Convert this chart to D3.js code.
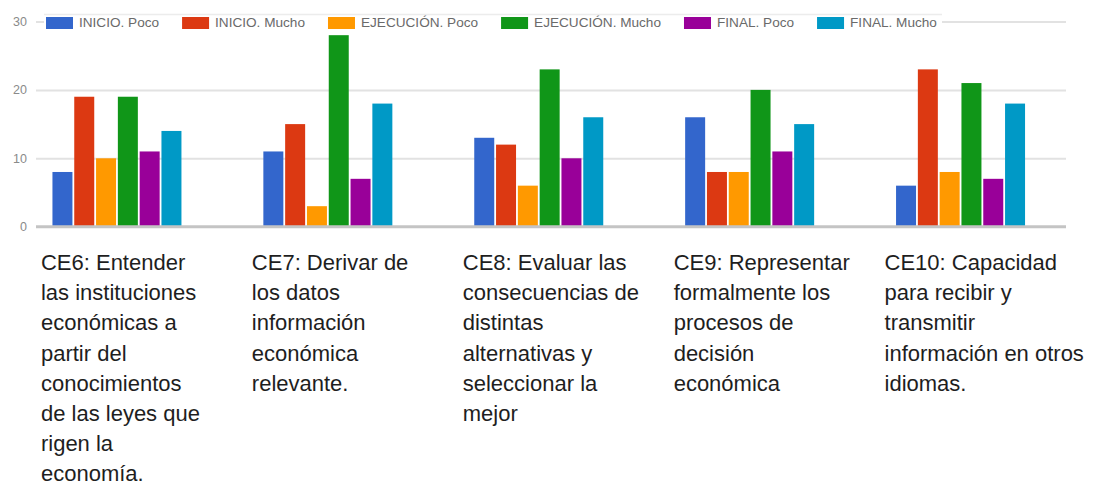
<!DOCTYPE html>
<html>
<head>
<meta charset="utf-8">
<script src="https://cdn.jsdelivr.net/npm/d3@7.9.0/dist/d3.min.js"></script>
<style>
  html, body { margin: 0; padding: 0; background: #fff; }
  svg { display: block; font-family: "Liberation Sans", Arial, sans-serif; }
</style>
</head>
<body>
<div id="chart"></div>
<script>
// categories (x axis) and their wrapped labels
const categories = ['CE6', 'CE7', 'CE8', 'CE9', 'CE10'];
const categoryLabels = [
  ['CE6: Entender', 'las instituciones', 'económicas a', 'partir del', 'conocimientos', 'de las leyes que', 'rigen la', 'economía.'],
  ['CE7: Derivar de', 'los datos', 'información', 'económica', 'relevante.'],
  ['CE8: Evaluar las', 'consecuencias de', 'distintas', 'alternativas y', 'seleccionar la', 'mejor'],
  ['CE9: Representar', 'formalmente los', 'procesos de', 'decisión', 'económica'],
  ['CE10: Capacidad', 'para recibir y', 'transmitir', 'información en otros', 'idiomas.'],
];

// series
const seriesNames = ['INICIO. Poco', 'INICIO. Mucho', 'EJECUCIÓN. Poco', 'EJECUCIÓN. Mucho', 'FINAL. Poco', 'FINAL. Mucho'];
const seriesColors = ['#3366cc', '#dc3912', '#ff9900', '#109618', '#990099', '#0099c6'];

// values per series, one per category
const inicioPoco = [8, 11, 13, 16, 6];
const inicioMucho = [19, 15, 12, 8, 23];
const ejecucionPoco = [10, 3, 6, 8, 8];
const ejecucionMucho = [19, 28, 23, 20, 21];
const finalPoco = [11, 7, 10, 11, 7];
const finalMucho = [14, 18, 16, 15, 18];
const seriesValues = [inicioPoco, inicioMucho, ejecucionPoco, ejecucionMucho, finalPoco, finalMucho];

const yTicks = [0, 10, 20, 30];

const width = 1099;
const height = 487;

const svg = d3.select('#chart')
  .append('svg')
  .attr('width', width)
  .attr('height', height);

const x = d3.scaleBand()
  .domain(categories)
  .range([11.5, 1066])
  .padding(0);

const y = d3.scaleLinear()
  .domain([0, 30])
  .range([226.7, 21.5]);

const gridLeft = 36;
const gridRight = 1066;

// gridlines
svg.append('g')
  .attr('transform', `translate(${gridLeft},0)`)
  .call(d3.axisLeft(y).tickValues(yTicks.filter((t) => t > 0)).tickFormat('').tickSize(-(gridRight - gridLeft)))
  .call((g) => g.select('.domain').remove())
  .call((g) => g.selectAll('line').attr('stroke', '#e2e2e2').attr('stroke-width', 2));

// tick labels
svg.append('g')
  .attr('transform', 'translate(27,0)')
  .call(d3.axisLeft(y).tickValues(yTicks).tickSize(0).tickPadding(0))
  .call((g) => g.select('.domain').remove())
  .call((g) => g.selectAll('text')
    .attr('fill', '#8a8a8a')
    .style('font-family', '"Liberation Sans", Arial, sans-serif')
    .style('font-size', '12.5px'));

// bars
const inner = d3.scaleBand()
  .domain(seriesNames)
  .range([-64.5, 64.5])
  .paddingInner(0.083)
  .paddingOuter(0);

const barData = [];
categories.forEach((c, ci) => {
  seriesNames.forEach((s, si) => {
    barData.push({ cat: c, series: s, color: seriesColors[si], value: seriesValues[si][ci] });
  });
});

svg.append('g')
  .selectAll('rect')
  .data(barData)
  .join('rect')
  .attr('x', (d) => x(d.cat) + x.bandwidth() / 2 + inner(d.series))
  .attr('y', (d) => y(d.value))
  .attr('width', inner.bandwidth())
  .attr('height', (d) => y(0) - y(d.value))
  .attr('fill', (d) => d.color);

// baseline
svg.append('line')
  .attr('x1', gridLeft)
  .attr('x2', gridRight)
  .attr('y1', y(0))
  .attr('y2', y(0))
  .attr('stroke', '#c4c4c4')
  .attr('stroke-width', 3);

// legend (sits on top of the 30 gridline)
const legend = svg.append('g');
legend.append('rect')
  .attr('x', 44)
  .attr('y', 14.5)
  .attr('width', 942 - 44)
  .attr('height', 15)
  .attr('fill', '#fff');
legend.append('line')
  .attr('x1', 44)
  .attr('x2', 942)
  .attr('y1', 14.5)
  .attr('y2', 14.5)
  .attr('stroke', '#ececec')
  .attr('stroke-width', 1.5);

let lx = 46;
seriesNames.forEach((s, i) => {
  legend.append('rect')
    .attr('x', lx)
    .attr('y', 17)
    .attr('width', 27)
    .attr('height', 12)
    .attr('fill', seriesColors[i]);
  const t = legend.append('text')
    .attr('x', lx + 33)
    .attr('y', 27)
    .attr('fill', '#6a6a6a')
    .style('font-size', '13.6px')
    .text(s);
  lx += 33 + t.node().getComputedTextLength() + 23;
});

// category labels below the chart
const labels = svg.append('g');
categories.forEach((c, ci) => {
  const t = labels.append('text')
    .attr('x', x(c) + x.bandwidth() / 2 - 76)
    .attr('y', 270)
    .attr('fill', '#1e1e1e')
    .style('font-size', '22px');
  categoryLabels[ci].forEach((line, li) => {
    t.append('tspan')
      .attr('x', x(c) + x.bandwidth() / 2 - 76)
      .attr('y', 270 + li * 30.2)
      .text(line);
  });
});
</script>
</body>
</html>
